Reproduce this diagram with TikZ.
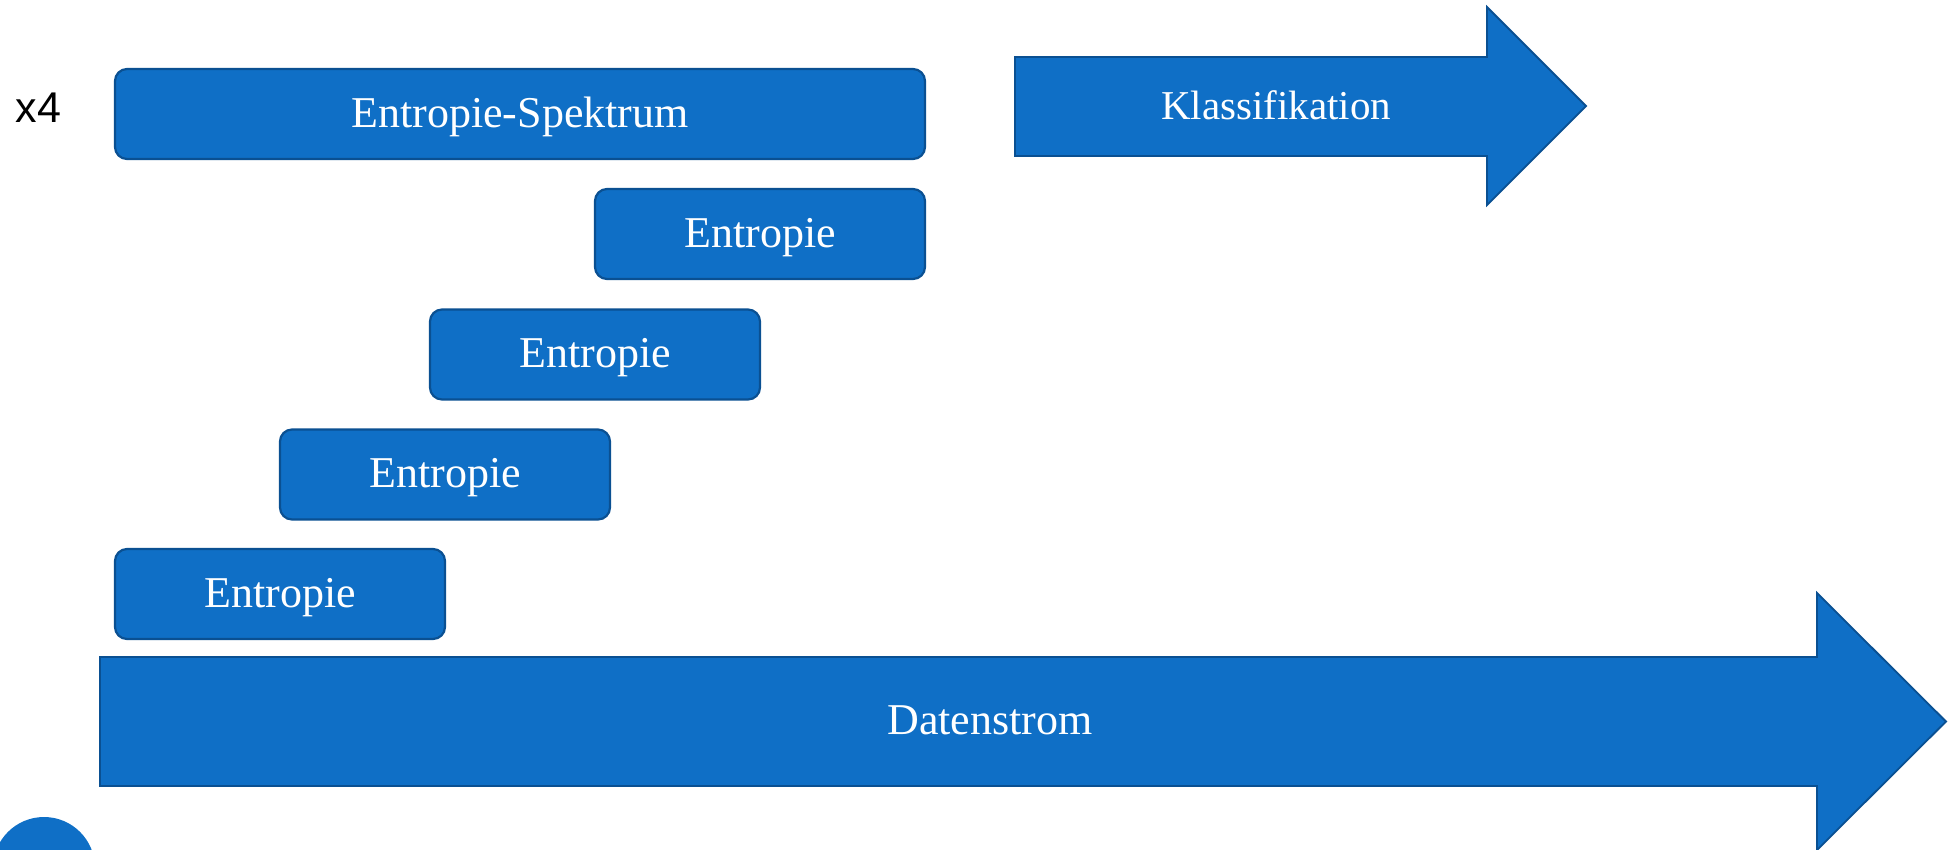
\documentclass[tikz,border=0pt]{standalone}
\usepackage{fontspec}
\setmainfont{Liberation Serif}
\newfontfamily\labelsans{Liberation Sans}
\definecolor{boxfill}{RGB}{15,111,198}
\definecolor{boxline}{RGB}{10,80,146}
\begin{document}
\begin{tikzpicture}[x=1pt,y=-1pt,
  lbl/.style={text=white,font=\fontsize{44}{52}\selectfont,inner sep=0pt,text height=26pt,text depth=0pt},
  ebox/.style={lbl,draw=boxline,line width=2.2pt,fill=boxfill,rounded corners=12pt,minimum height=90pt},
  arrowshape/.style={draw=boxline,line width=1.8pt,fill=boxfill,line join=miter}
]
\useasboundingbox (0,0) rectangle (1953,849);
\clip (0,0) rectangle (1953,849);
% circle at bottom left
\fill[boxfill] (44,868) circle (51);
% Datenstrom arrow
\draw[arrowshape] (100,657) -- (1817,657) -- (1817,593) -- (1946,721.5) -- (1817,850) -- (1817,786) -- (100,786) -- cycle;
\node[lbl] (daten) at (990,721.5) {Datenstrom};
% Klassifikation arrow
\draw[arrowshape] (1015,57) -- (1487,57) -- (1487,7) -- (1586,106) -- (1487,205) -- (1487,156) -- (1015,156) -- cycle;
\node[lbl,font=\fontsize{41}{50}\selectfont] (klass) at (1276,106) {Klassifikation};
% boxes
\node[ebox,minimum width=810pt] (spek) at (520,114) {Entropie-Spektrum};
\node[ebox,minimum width=330pt] (e1) at (760,234) {Entropie};
\node[ebox,minimum width=330pt] (e2) at (595,354.5) {Entropie};
\node[ebox,minimum width=330pt] (e3) at (445,474.5) {Entropie};
\node[ebox,minimum width=330pt] (e4) at (280,594) {Entropie};
% x4
\node[inner sep=0pt,anchor=base,font=\labelsans\fontsize{43}{50}\selectfont] (x4) at (38.5,122) {x4};
\end{tikzpicture}
\end{document}
